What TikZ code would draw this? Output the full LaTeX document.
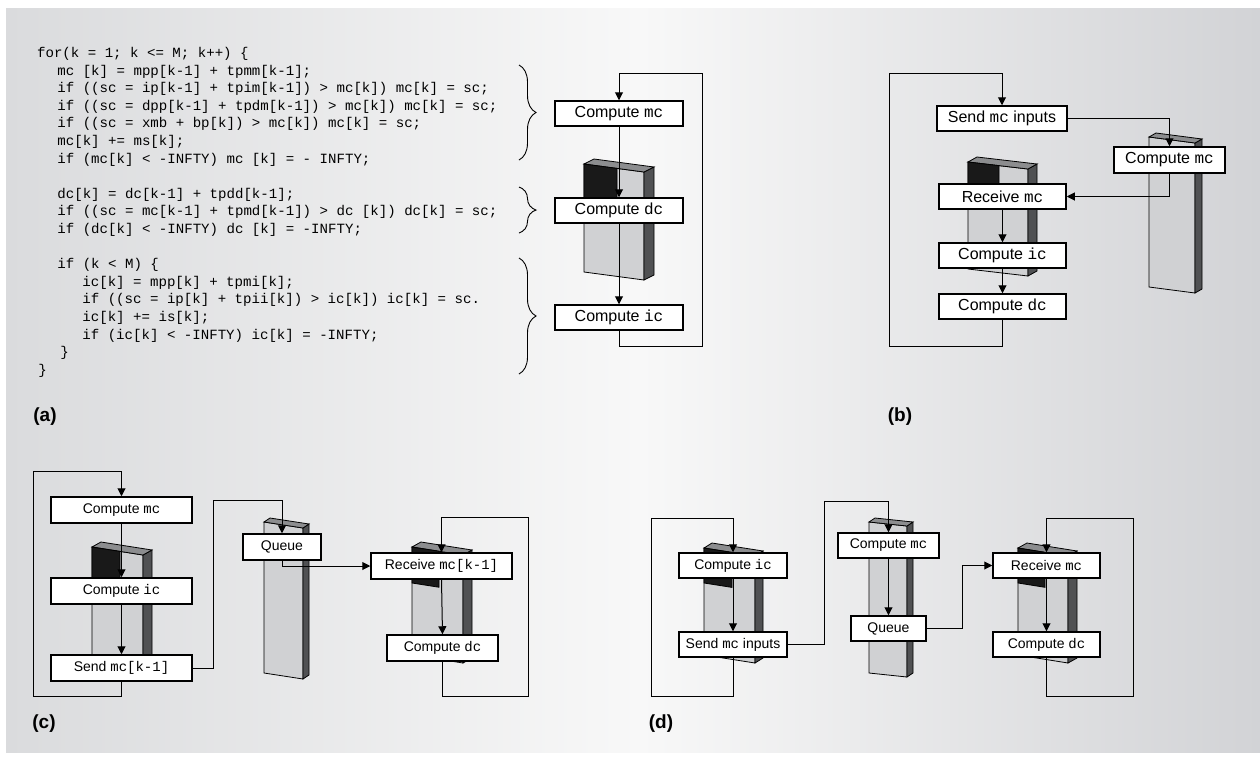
\documentclass[tikz,border=0pt]{standalone}
\usepackage{fontspec}
\setmainfont{Liberation Sans}
\setsansfont{Liberation Sans}
\setmonofont{Liberation Mono}
\usetikzlibrary{arrows.meta,decorations.pathreplacing,calc}
\definecolor{bgL}{RGB}{218,219,221}
\definecolor{bgM}{RGB}{248,248,248}
\definecolor{bgR}{RGB}{210,211,214}
\definecolor{sfront}{RGB}{208,209,211}
\definecolor{stopc}{RGB}{140,141,143}
\definecolor{sside}{RGB}{80,81,83}
\definecolor{sblk}{RGB}{25,25,25}
\tikzset{
 box/.style={draw=black,line width=0.75pt,fill=white,inner sep=0pt,font=\fontsize{8}{9}\selectfont},
 conn/.style={line width=0.5pt},
 arr/.style={conn,-{Triangle[length=4pt,width=4pt]}},
 codeline/.style={anchor=base west,inner sep=0pt,font=\ttfamily\fontsize{7.05}{8}\selectfont},
 plabel/.style={font=\bfseries\fontsize{9.5}{11}\selectfont,inner sep=0pt},
 cbrace/.style={decorate,decoration={brace,amplitude=8.5pt},line width=0.45pt},
 slabline/.style={draw=black,line width=0.4pt},
}
% slab: xl xr yt yb s dx dy
\newcommand\slab[7]{%
 \fill[sfront,slabline] (#1,#3) -- (#2,#3+#5) -- (#2,#4+#5) -- (#1,#4) -- cycle;
 \fill[sside,slabline] (#2,#3+#5) -- (#2+#6,#3+#5-#7) -- (#2+#6,#4+#5-#7) -- (#2,#4+#5) -- cycle;
 \fill[stopc,slabline] (#1,#3) -- (#1+#6,#3-#7) -- (#2+#6,#3+#5-#7) -- (#2,#3+#5) -- cycle;}
% black part: xl xr yt s xb ybk
\newcommand\slabblk[6]{%
 \fill[sblk,slabline] (#1,#3) -- (#5,{#3+#4*(#5-#1)/(#2-#1)}) -- (#5,{#6+#4*(#5-#1)/(#2-#1)}) -- (#1,#6) -- cycle;}
% box: name x1 y1 x2 y2 text
\newcommand\bx[6]{%
 \pgfmathsetmacro\bxw{(#4-#2)*0.5}%
 \pgfmathsetmacro\bxh{(#5-#3)*0.5}%
 \node[box,minimum width=\bxw pt,minimum height=\bxh pt] (#1) at ({(#2+#4)/2},{(#3+#5)/2}) {#6};}
\begin{document}
\begin{tikzpicture}[x=0.5pt,y=-0.5pt]
\useasboundingbox (0,0) rectangle (1260,762);
\fill[white] (0,0) rectangle (1260,762);
\fill[left color=bgL, right color=bgM] (6,8) rectangle (640,752);
\fill[left color=bgM, right color=bgR] (639.5,8) rectangle (1260,752);

% ---------- code (a)
\node[codeline] (l0) at (36.7,57.5) {for(k = 1; k <= M; k++) \{};
\node[codeline] (l1) at (57,75.1) {mc [k] = mpp[k-1] + tpmm[k-1];};
\node[codeline] (l2) at (57,92.7) {if ((sc = ip[k-1] + tpim[k-1]) > mc[k]) mc[k] = sc;};
\node[codeline] (l3) at (57,110.3) {if ((sc = dpp[k-1] + tpdm[k-1]) > mc[k]) mc[k] = sc;};
\node[codeline] (l4) at (57,127.9) {if ((sc = xmb + bp[k]) > mc[k]) mc[k] = sc;};
\node[codeline] (l5) at (57,145.5) {mc[k] += ms[k];};
\node[codeline] (l6) at (57,163.1) {if (mc[k] < -INFTY) mc [k] = - INFTY;};
\node[codeline] (l8) at (57,198.3) {dc[k] = dc[k-1] + tpdd[k-1];};
\node[codeline] (l9) at (57,215.9) {if ((sc = mc[k-1] + tpmd[k-1]) > dc [k]) dc[k] = sc;};
\node[codeline] (l10) at (57,233.5) {if (dc[k] < -INFTY) dc [k] = -INFTY;};
\node[codeline] (l12) at (57,268.7) {if (k < M) \{};
\node[codeline] (l13) at (82,286.3) {ic[k] = mpp[k] + tpmi[k];};
\node[codeline] (l14) at (82,303.9) {if ((sc = ip[k] + tpii[k]) > ic[k]) ic[k] = sc.};
\node[codeline] (l15) at (82,321.5) {ic[k] += is[k];};
\node[codeline] (l16) at (82,339.1) {if (ic[k] < -INFTY) ic[k] = -INFTY;};
\node[codeline] (l17) at (60,356.7) {\}};
\node[codeline] (l18) at (38,374.3) {\}};
\draw[cbrace] (519,65) -- (519,160);
\draw[cbrace] (519,187) -- (519,233);
\draw[cbrace] (519,258) -- (519,374);

% ---------- slabs
\slab{584}{644}{164}{272}{8}{10}{5}
\slabblk{584}{644}{164}{8}{617}{205}
\slab{968}{1028}{162}{269}{7}{9}{5}
\slabblk{968}{1028}{162}{7}{999}{195}
\slab{1149}{1195}{137}{287}{6}{7}{4}
\slab{92}{143}{547}{660}{8}{9}{5}
\slabblk{92}{143}{547}{8}{120}{590}
\slab{264}{303}{522}{673}{6}{6}{4}
\slab{412}{463}{547}{655}{8}{9}{5}
\slabblk{412}{463}{547}{8}{439}{583}
\slab{704}{755}{548}{655}{8}{8}{5}
\slabblk{704}{755}{548}{8}{732}{583}
\slab{869}{907}{522}{673}{4}{6}{4}
\slab{1018}{1068}{548}{655}{8}{9}{5}
\slabblk{1018}{1068}{548}{8}{1045}{583}

% ---------- boxes
\bx{mcA}{555}{101}{683}{126}{Compute \texttt{mc}}
\bx{dcA}{555}{198}{683}{223}{Compute \texttt{dc}}
\bx{icA}{555}{305}{683}{330}{Compute \texttt{ic}}

\bx{sendB}{937}{106}{1067}{131}{Send \texttt{mc} inputs}
\bx{cmcB}{1114}{147}{1225}{173}{Compute \texttt{mc}}
\bx{recB}{939}{184}{1066}{209}{Receive \texttt{mc}}
\bx{icB}{939}{243}{1066}{268}{Compute \texttt{ic}}
\bx{dcB}{939}{294}{1066}{319}{Compute \texttt{dc}}

\begin{scope}[box/.append style={font=\fontsize{7}{8}\selectfont}]
\bx{mcC}{51}{497}{192}{523}{Compute \texttt{mc}}
\bx{icC}{51}{578}{192}{604}{Compute \texttt{ic}}
\bx{sendC}{51}{655}{192}{681}{Send \texttt{mc[k-1]}}
\bx{queueC}{243}{534}{321}{560}{Queue}
\bx{recC}{371}{553}{512}{579}{Receive \texttt{mc[k-1]}}
\bx{dcC}{387}{635}{498}{661}{Compute \texttt{dc}}

\bx{icD}{679}{553}{787}{578}{Compute \texttt{ic}}
\bx{sendD}{679}{632}{787}{657}{Send \texttt{mc} inputs}
\bx{cmcD}{838}{533}{939}{558}{Compute \texttt{mc}}
\bx{queueD}{851}{616}{926}{641}{Queue}
\bx{recD}{993}{553}{1100}{578}{Receive \texttt{mc}}
\bx{dcD}{993}{632}{1100}{657}{Compute \texttt{dc}}
\end{scope}

% ---------- connectors
\coordinate (aR) at (702,73);
\draw[arr] (mcA.south) -- (dcA.north);
\draw[arr] (dcA.south) -- (icA.north);
\draw[arr] (icA.south) -- ++(0,16) -| (aR) -| (mcA.north);

\coordinate (bL) at (889,73);
\draw[arr] (dcB.south) -- ++(0,27) -| (bL) -| (sendB.north);
\draw[arr] (sendB.east) -| (cmcB.north);
\draw[arr] (cmcB.south) |- (recB.east);
\draw[arr] (recB.south) -- (icB.north);
\draw[arr] (icB.south) -- (dcB.north);

\coordinate (cL) at (33,471);
\coordinate (cM) at (213,500);
\coordinate (cR) at (528,517);
\draw[arr] (sendC.south) -- ++(0,15) -| (cL) -| (mcC.north);
\draw[arr] (mcC.south) -- (icC.north);
\draw[arr] (icC.south) -- (sendC.north);
\draw[arr] (sendC.east) -| (cM) -| (queueC.north);
\draw[arr] (queueC.south) |- (recC.west);
\draw[arr] (recC.south) -- (dcC.north);
\draw[arr] (dcC.south) -- ++(0,35) -| (cR) -| (recC.north);

\coordinate (dL) at (651,518);
\coordinate (dM) at (824,501);
\coordinate (dR) at (1133,518);
\draw[arr] (sendD.south) -- ++(0,39) -| (dL) -| (icD.north);
\draw[arr] (icD.south) -- (sendD.north);
\draw[arr] (sendD.east) -| (dM) -| (cmcD.north);
\draw[arr] (cmcD.south) -- (queueD.north);
\draw[arr] (queueD.east) -| ($(recD.west)+(-30,0)$) -- (recD.west);
\draw[arr] (recD.south) -- (dcD.north);
\draw[arr] (dcD.south) -- ++(0,39) -| (dR) -| (recD.north);

% ---------- panel labels
\node[plabel] (la) at (45,417) {(a)};
\node[plabel] (lb) at (900,417) {(b)};
\node[plabel] (lc) at (44,724) {(c)};
\node[plabel] (ld) at (661,724) {(d)};
\end{tikzpicture}
\end{document}
